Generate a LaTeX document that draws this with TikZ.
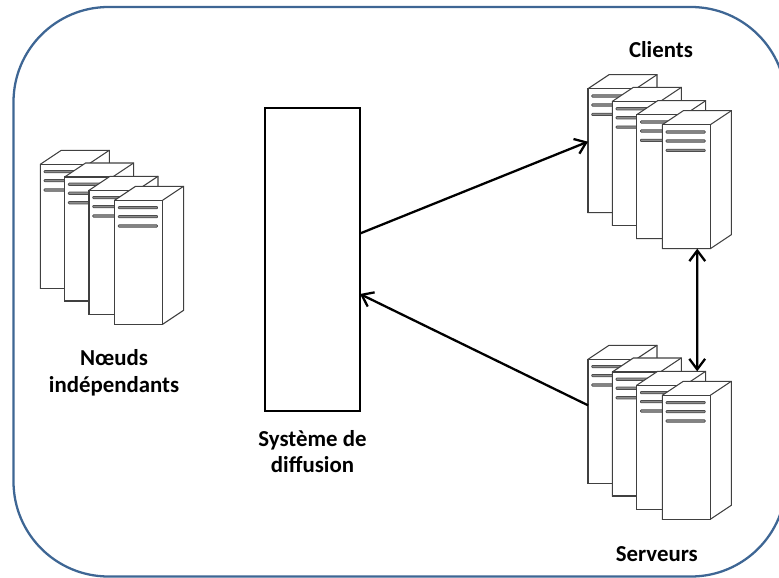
\documentclass[tikz,border=0pt]{standalone}
\usepackage{fontspec}
\setmainfont{Carlito}
\usetikzlibrary{arrows.meta,
                positioning}
\definecolor{framecolor}{RGB}{62,102,148}
\tikzset{frame/.style=
   {draw=framecolor,
    line width=1.3pt,
    rounded corners=1.9cm}}
\tikzset{tower/.style=
   {rectangle,
    draw=black!75,
    fill=white,
    line width=0.6pt,
    outer sep=0pt,
    minimum width=0.96cm,
    minimum height=2.48cm}}
\tikzset{towerside/.style = {draw=black!75, fill=white, line width=0.6pt}}
\tikzset{slot/.style = {draw=black!70, fill=black!45, line width=0.4pt, rounded corners=0.5pt}}
\tikzset{diffusionbox/.style=
   {rectangle,
    draw,
    line width=1.3pt,
    outer sep=0pt,
    minimum width=1.9cm,
    minimum height=6.06cm}}
\tikzset{grouplabel/.style = {font=\bfseries\fontsize{13}{15}\selectfont, align=center, inner sep=0pt}}
\tikzset{arrow/.style = {draw, line width=1.3pt, -{Straight Barb[length=6pt,width=9pt]}}}
\tikzset{dblarrow/.style = {draw, line width=1.3pt, {Straight Barb[length=6pt,width=9pt]}-{Straight Barb[length=6pt,width=9pt]}}}

% one group of four towers, #2 #3 = top left corner of the first front face
\newcommand{\servergroup}[3]{
    \foreach \n/\dx/\dy in {1/0/0, 2/24.3/12.7, 3/48.7/26, 4/74.3/36} {
        \path [towerside]
        (#2+\dx,#3+\dy) -- ++(21,-14) -- ++(48,0) -- ++(0,124) -- ++(-21,14) -- ++(-48,0) -- cycle;
        \node [tower, anchor=north west] (#1\n) at (#2+\dx,#3+\dy) {};
        \draw [draw=black!75, line width=0.6pt] (#1\n.north east) -- ++(21,-14);
        \foreach \s in {7.3, 16.3, 25.7} {
            \path [slot]
            ([shift={(3.7,\s-1.2)}] #1\n.north west) rectangle ([shift={(43,\s+1.2)}] #1\n.north west);
        }
    }
}

\begin{document}
\begin{tikzpicture}[x=0.02cm, y=-0.02cm]

    \useasboundingbox (0,0) rectangle (779,578);
    \clip (0,0) rectangle (779,578);

    % Frame
    \path [frame] (13.5,7) rectangle (786,576.5);

    % Blocks
    \servergroup{indep}{40.3}{164.3}
    \servergroup{clients}{588}{88.7}
    \servergroup{serveurs}{588}{359.3}
    \node [diffusionbox] (diffusion) at (312.5,259.5) {};

    % Labels
    \node [grouplabel, below=0.5cm of indep4, xshift=-0.49cm] (indeplabel) {Nœuds\\indépendants};
    \node [grouplabel, below=0.38cm of diffusion] (diffusionlabel) {Système de\\diffusion};
    \node [grouplabel, above=0.62cm of clients1, xshift=0.98cm] (clientslabel) {Clients};
    \node [grouplabel, below=0.53cm of serveurs4, xshift=-0.59cm] (serveurslabel) {Serveurs};

    % Draw edges
    \path [arrow]
    ([yshift = 0.52cm] diffusion.east)
    -- ([yshift = 0.18cm] clients1.west);

    \path [arrow]
    ([yshift = 0.32cm] serveurs1.west)
    -- ([yshift = -0.69cm] diffusion.east);

    \path [dblarrow]
    ([xshift = 0.22cm] clients4.south)
    -- ([xshift = 0.73cm, yshift = 0.28cm] serveurs3.north);

\end{tikzpicture}
\end{document}
